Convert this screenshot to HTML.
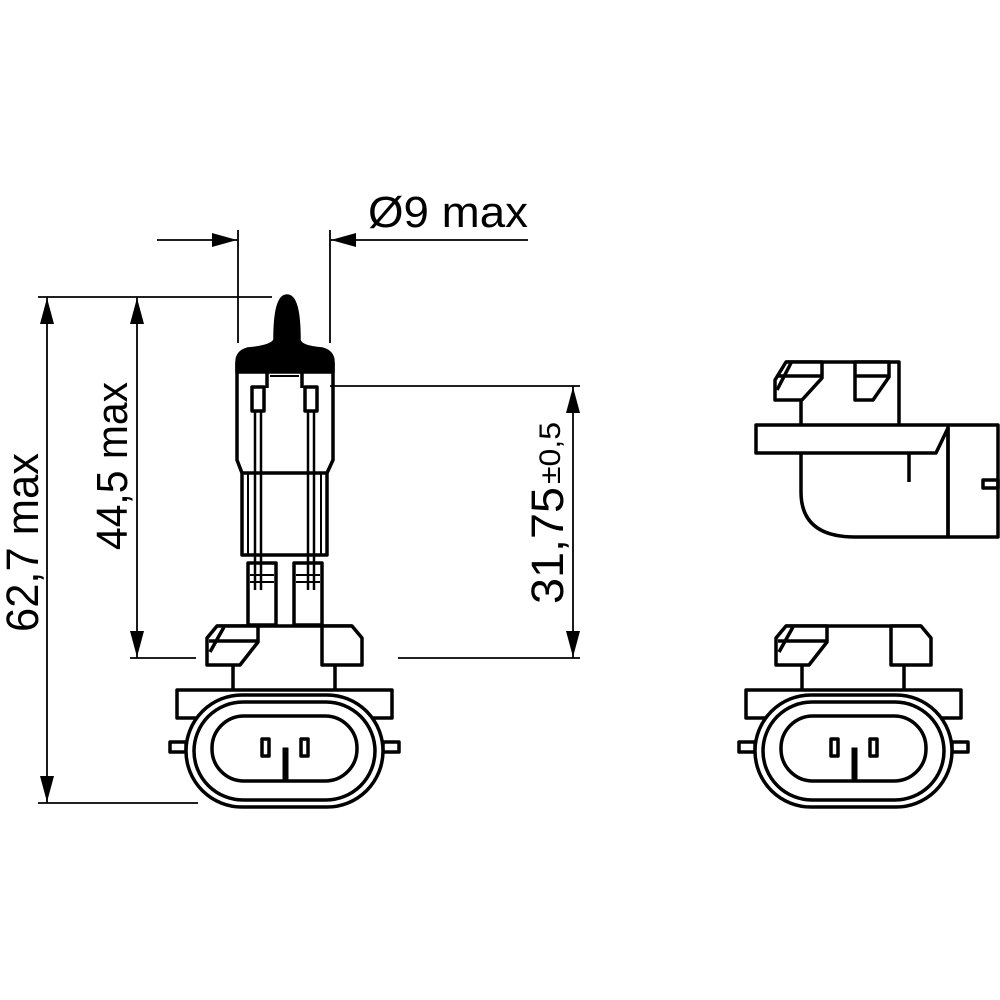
<!DOCTYPE html>
<html><head><meta charset="utf-8"><style>html,body{margin:0;padding:0;background:#fff}svg{display:block}</style></head>
<body>
<svg width="1000" height="1000" viewBox="0 0 1000 1000" xmlns="http://www.w3.org/2000/svg" font-family="Liberation Sans, Arial, sans-serif">
<defs>
<g id="base" fill="none" stroke="#000" stroke-width="3.5" stroke-linejoin="round">
  <line x1="217" y1="626" x2="352" y2="626"/>
  <polygon points="217,626 258,626 258,642 240,665 207,665 207,638" fill="#fff"/>
  <line x1="209" y1="641" x2="258" y2="641"/>
  <line x1="224" y1="627" x2="210" y2="652"/>
  <polygon points="322,626 352,626 362,638 362,665 322,665" fill="#fff"/>
  <line x1="233" y1="665" x2="233" y2="690"/>
  <line x1="335" y1="665" x2="335" y2="690"/>
  <rect x="177" y="690" width="215" height="28" fill="#fff"/>
  <rect x="170" y="742" width="16" height="10" fill="#fff"/>
  <rect x="383" y="742" width="16" height="10" fill="#fff"/>
  <rect x="186" y="695" width="197" height="112" rx="56" fill="#fff"/>
  <rect x="194" y="702" width="181" height="98" rx="49"/>
  <rect x="212" y="716" width="145" height="65" rx="32"/>
  <rect x="262" y="739" width="7" height="17"/>
  <rect x="301" y="739" width="7" height="17"/>
  <rect x="283" y="748" width="5" height="31" fill="#000" stroke-width="1"/>
</g>
</defs>

<g stroke="#000" stroke-width="1.8" fill="none">
  <line x1="38" y1="297" x2="272" y2="297"/>
  <line x1="38" y1="803" x2="198" y2="803"/>
  <line x1="47" y1="297" x2="47" y2="803"/>
  <line x1="130" y1="658" x2="196" y2="658"/>
  <line x1="137" y1="297" x2="137" y2="658"/>
  <line x1="330" y1="386" x2="580" y2="386"/>
  <line x1="398" y1="658" x2="580" y2="658"/>
  <line x1="573" y1="386" x2="573" y2="658"/>
  <line x1="238" y1="230" x2="238" y2="343"/>
  <line x1="330" y1="230" x2="330" y2="343"/>
  <line x1="157" y1="240" x2="238" y2="240"/>
  <line x1="330" y1="240" x2="528" y2="240"/>
</g>
<g fill="#000">
  <polygon points="47,298 40,324 54,324"/>
  <polygon points="47,802 40,776 54,776"/>
  <polygon points="137,298 130,324 144,324"/>
  <polygon points="137,657 130,631 144,631"/>
  <polygon points="573,387 566,413 580,413"/>
  <polygon points="573,657 566,631 580,631"/>
  <polygon points="237,240 212,233 212,247"/>
  <polygon points="331,240 356,233 356,247"/>
</g>

<text x="368" y="227" font-size="44" textLength="160" lengthAdjust="spacingAndGlyphs">Ø9 max</text>
<text transform="translate(38,632) rotate(-90)" font-size="45" textLength="179" lengthAdjust="spacingAndGlyphs">62,7 max</text>
<text transform="translate(127,550) rotate(-90)" font-size="44" textLength="168" lengthAdjust="spacingAndGlyphs">44,5 max</text>
<text transform="translate(563,604) rotate(-90)" font-size="45" textLength="117" lengthAdjust="spacingAndGlyphs">31,75</text>
<text transform="translate(560,484) rotate(-90)" font-size="30" textLength="62" lengthAdjust="spacingAndGlyphs">±0,5</text>

<g stroke="#000" stroke-width="3.5" fill="none" stroke-linejoin="round">
  <path d="M275,340 Q275,296 287,296 Q299,296 299,340 Q300,347 322,349 Q333,352 333,362 L333,372 L237,372 L237,362 Q237,352 248,349 Q272,347 275,340 Z" fill="#000"/>
  <path d="M237,362 L237,460 L242,473 L242,555 L327,555 L327,473 L333,460 L333,362"/>
  <line x1="242" y1="473" x2="327" y2="473"/>
  <line x1="267" y1="372" x2="267" y2="388"/>
  <line x1="302" y1="372" x2="302" y2="388"/>
  <line x1="270" y1="376" x2="299" y2="376" stroke-width="2"/>
  <rect x="252" y="387" width="12" height="24"/>
  <rect x="305" y="387" width="12" height="24"/>
  <line x1="255" y1="411" x2="255" y2="590" stroke-width="2.5"/>
  <line x1="261" y1="411" x2="261" y2="590" stroke-width="2.5"/>
  <line x1="308" y1="411" x2="308" y2="590" stroke-width="2.5"/>
  <line x1="314" y1="411" x2="314" y2="590" stroke-width="2.5"/>
  <line x1="248" y1="473" x2="248" y2="555" stroke-width="2"/>
  <line x1="321" y1="473" x2="321" y2="555" stroke-width="2"/>
  <rect x="248" y="563" width="28" height="62" fill="none"/>
  <rect x="294" y="563" width="28" height="62" fill="none"/>
  <line x1="250" y1="575" x2="274" y2="575" stroke-width="2"/>
  <line x1="250" y1="582" x2="274" y2="582" stroke-width="2"/>
  <line x1="296" y1="575" x2="320" y2="575" stroke-width="2"/>
  <line x1="296" y1="582" x2="320" y2="582" stroke-width="2"/>
</g>
<use href="#base"/>
<use href="#base" transform="translate(569,0)"/>

<g stroke="#000" stroke-width="3.5" fill="none" stroke-linejoin="round">
  <path d="M786,362 L899,362 L899,425"/>
  <polygon points="786,362 822,362 822,378 802,400 775,400 775,380" fill="#fff"/>
  <line x1="777" y1="376" x2="822" y2="376"/>
  <line x1="791" y1="363" x2="777" y2="390"/>
  <polygon points="855,362 889,362 889,377 873,400 855,400" fill="#fff"/>
  <line x1="855" y1="376" x2="889" y2="376"/>
  <line x1="801" y1="400" x2="801" y2="425"/>
  <polygon points="756,425 998,425 998,537 948,537 948,428 936,453 756,453"/>
  <line x1="948" y1="425" x2="948" y2="537"/>
  <path d="M801,453 L801,492 Q801,537 855,537 L948,537"/>
  <line x1="909" y1="453" x2="909" y2="482"/>
  <rect x="983" y="480" width="15" height="8"/>
</g>
</svg>
</body></html>
